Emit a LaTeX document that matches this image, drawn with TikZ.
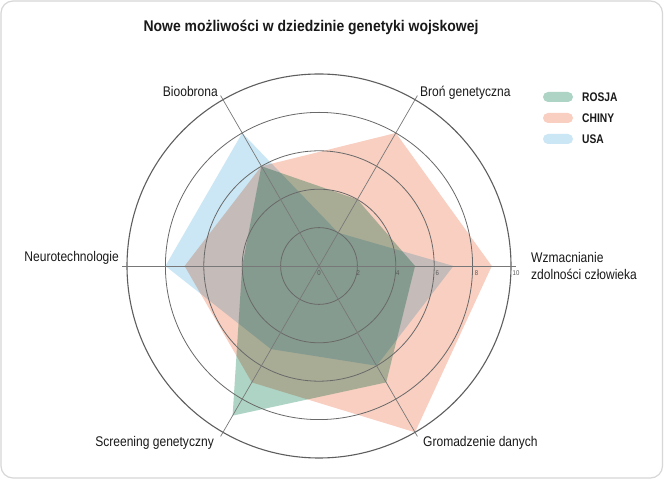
\documentclass[tikz,border=0pt]{standalone}
\usepackage{fontspec}
\usetikzlibrary{calc}
\setmainfont{Liberation Sans}
\newfontfamily\lab[FakeStretch=0.86]{Liberation Sans}
\newfontfamily\ttl[FakeStretch=0.9]{Liberation Sans}
\newfontfamily\leg[FakeStretch=0.82]{Liberation Sans}
\definecolor{rosja}{RGB}{174,212,197}
\definecolor{chiny}{RGB}{248,207,193}
\definecolor{usa}{RGB}{203,231,245}
\definecolor{gridc}{RGB}{105,105,105}
\definecolor{framec}{RGB}{215,215,215}
\newcommand\Uu{19.2}
\newcommand\radarpoly[7]{\fill[#1] (0:{#2*\Uu}) -- (60:{#3*\Uu}) -- (120:{#4*\Uu}) -- (180:{#5*\Uu}) -- (240:{#6*\Uu}) -- (300:{#7*\Uu}) -- cycle;}
\begin{document}
\begin{tikzpicture}[x=1pt,y=1pt,
  ring/.style={draw=gridc, line width=0.8pt},
  axisline/.style={draw=gridc!90, line width=0.7pt},
  lbl/.style={font=\lab\fontsize{14}{17.5}\selectfont, inner sep=0pt, text=black!90},
  ticklbl/.style={font=\lab\fontsize{7}{8}\selectfont, inner sep=0pt, text=black!65, anchor=north},
  legtxt/.style={font=\leg\bfseries\fontsize{12.5}{14}\selectfont, inner sep=0pt, anchor=west, text=black!90},
  swatch/.style={rounded corners=5pt, minimum width=30pt, minimum height=10pt, inner sep=0pt},
]
\useasboundingbox (0,0) rectangle (664,479);
\fill[white] (0,0) rectangle (664,479);
\draw[framec, line width=1.2pt, rounded corners=12pt] (1,1) rectangle (662.5,478);

\node[font=\ttl\bfseries\fontsize{15.5}{18}\selectfont, inner sep=0pt, text=black!90] (title) at (311,452) {Nowe możliwości w dziedzinie genetyki wojskowej};

\coordinate (c) at (319,213);
\begin{scope}[shift={(c)}]
  \begin{scope}[blend mode=multiply]
    \radarpoly{rosja}{5}{4}{6}{4}{9}{7}
    \radarpoly{chiny}{9}{8}{6}{7}{7}{10}
    \radarpoly{usa}{7}{2}{8}{8}{5}{6}
  \end{scope}
  \foreach \r in {2,4,6,8} {\draw[ring] (0,0) circle[radius=\r*\Uu];}
  \draw[ring, line width=1.1pt, draw=gridc!90!black] (0,0) circle[radius=10*\Uu];
  \coordinate (eW) at (0:196.8);
  \coordinate (eB) at (60:196.8);
  \coordinate (eO) at (120:196.8);
  \coordinate (eN) at (180:196.8);
  \coordinate (eS) at (240:196.8);
  \coordinate (eG) at (300:196.8);
\end{scope}
\foreach \e in {eW,eB,eO,eN,eS,eG} {\draw[axisline] (c) -- (\e);}

\foreach \v in {0,2,4,6,8,10} {\node[ticklbl] (t\v) at ($(c)+(\v*19.7,-4.5)$) {\v};}

\node[lbl, anchor=base east] (lO) at (218,382) {Bioobrona};
\node[lbl, anchor=base west] (lB) at (420,382) {Broń genetyczna};
\node[lbl, anchor=base east] (lN) at (119,217) {Neurotechnologie};
\node[lbl, anchor=north west, align=left] (lW) at (531,227) {Wzmacnianie\\zdolności człowieka};
\node[lbl, anchor=base east] (lS) at (214,32) {Screening genetyczny};
\node[lbl, anchor=base west] (lG) at (423,32) {Gromadzenie danych};

\node[swatch, fill=rosja] (sR) at (558,382) {};
\node[swatch, fill=chiny] (sC) at (558,361) {};
\node[swatch, fill=usa] (sU) at (558,340) {};
\node[legtxt] (gR) at (582,382) {ROSJA};
\node[legtxt] (gC) at (582,361) {CHINY};
\node[legtxt] (gU) at (582,340) {USA};
\end{tikzpicture}
\end{document}
